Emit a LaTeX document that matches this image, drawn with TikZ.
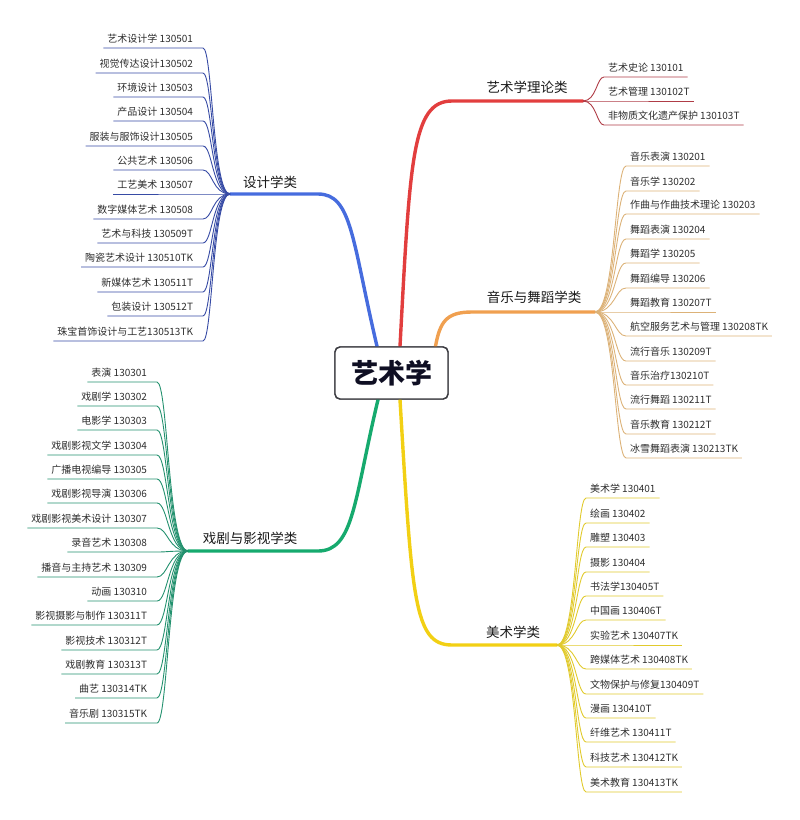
\documentclass[tikz,border=0pt]{standalone}
\usepackage{fontspec}
\setmainfont{Noto Sans CJK SC}
\usetikzlibrary{calc}
\definecolor{cred}{RGB}{226,62,62}
\definecolor{credc}{RGB}{175,60,70}
\definecolor{corange}{RGB}{240,160,80}
\definecolor{corangec}{RGB}{220,178,120}
\definecolor{cyellow}{RGB}{242,208,20}
\definecolor{cyellowc}{RGB}{225,202,45}
\definecolor{cgreen}{RGB}{22,170,110}
\definecolor{cgreenc}{RGB}{35,145,110}
\definecolor{cblue}{RGB}{70,108,222}
\definecolor{cbluec}{RGB}{55,75,165}
\definecolor{leaftext}{RGB}{45,45,45}
\definecolor{cattext}{RGB}{25,25,25}
\definecolor{boxdraw}{RGB}{60,60,66}
\definecolor{boxtext}{RGB}{15,15,35}
\begin{document}
\begin{tikzpicture}[x=1pt,y=-1pt,
  leaf/.style={inner xsep=4pt,inner ysep=4pt,text depth=2pt,text height=8pt,
    font=\fontsize{10}{12}\selectfont,text=leaftext,outer sep=0pt},
  cat/.style={font=\fontsize{13.5}{16}\selectfont,text=cattext,inner sep=0pt},
  mainline/.style={line width=3.4pt,line cap=round},
  childline/.style={line width=0.9pt},
  centerbox/.style={draw=boxdraw,line width=1.4pt,rounded corners=5pt,fill=white,
    minimum width=113pt,minimum height=52pt,inner sep=0pt,
    font=\fontsize{27}{30}\selectfont\bfseries,text=boxtext}]
\useasboundingbox (0,0) rectangle (800,820);

% center node (placed first for anchors, redrawn later on top)
\node[centerbox] (c) at (391.5,373) {艺术学};

% branch points
\coordinate (rb) at (583,101);
\coordinate (ob) at (595,312);
\coordinate (yb) at (557,645);
\coordinate (gb) at (188,551);
\coordinate (bb) at (230,194);

% main branches
\draw[mainline,cred] ([xshift=8.5pt]c.north) .. controls (410,160) and (412,101) .. (452,101) -- (rb);
\draw[mainline,corange] ([xshift=44pt]c.north) .. controls (440,322) and (446,312) .. (472,312) -- (ob);
\draw[mainline,cyellow] ([xshift=8.5pt]c.south) .. controls (412,600) and (414,645) .. (452,645) -- (yb);
\draw[mainline,cgreen] ([xshift=-13.5pt]c.south) .. controls (354,500) and (354,551) .. (318,551) -- (gb);
\draw[mainline,cblue] ([xshift=-14.5pt]c.north) .. controls (352,240) and (352,194) .. (318,194) -- (bb);

% category labels
\node[cat] (rl) at (527,87) {艺术学理论类};
\node[cat] (ol) at (534,297) {音乐与舞蹈学类};
\node[cat] (yl) at (513,632) {美术学类};
\node[cat] (gl) at (250,538) {戏剧与影视学类};
\node[cat] (bl) at (270,182) {设计学类};

% red leaves
\foreach [count=\i] \t/\y in {艺术史论 130101/77,艺术管理 130102T/101,非物质文化遗产保护 130103T/125}{
  \node[leaf,anchor=south west] (r\i) at (604,\y) {\t};
  \draw[childline,credc] (rb) .. controls (596.6,101) and (596.6,\y) .. (r\i.south west) -- (r\i.south east);
}

% orange leaves
\foreach [count=\i] \t/\y in {音乐表演 130201/166,音乐学 130202/191,作曲与作曲技术理论 130203/214,舞蹈表演 130204/239,舞蹈学 130205/263,舞蹈编导 130206/288,舞蹈教育 130207T/312,航空服务艺术与管理 130208TK/336,流行音乐 130209T/361,音乐治疗130210T/385,流行舞蹈 130211T/409,音乐教育 130212T/434,冰雪舞蹈表演 130213TK/458}{
  \node[leaf,anchor=south west] (o\i) at (626,\y) {\t};
  \draw[childline,corangec] (ob) .. controls (615,312) and (615,\y) .. (o\i.south west) -- (o\i.south east);
}

% yellow leaves
\foreach [count=\i] \t/\y in {美术学 130401/498,绘画 130402/523,雕塑 130403/547,摄影 130404/572,书法学130405T/596,中国画 130406T/620,实验艺术 130407TK/645,跨媒体艺术 130408TK/669,文物保护与修复130409T/694,漫画 130410T/718,纤维艺术 130411T/742,科技艺术 130412TK/767,美术教育 130413TK/792}{
  \node[leaf,anchor=south west] (y\i) at (586,\y) {\t};
  \draw[childline,cyellowc] (yb) .. controls (576,645) and (576,\y) .. (y\i.south west) -- (y\i.south east);
}

% green leaves
\foreach [count=\i] \t/\y in {表演 130301/382,戏剧学 130302/406,电影学 130303/430,戏剧影视文学 130304/455,广播电视编导 130305/479,戏剧影视导演 130306/503,戏剧影视美术设计 130307/528,录音艺术 130308/552,播音与主持艺术 130309/577,动画 130310/601,影视摄影与制作 130311T/625,影视技术 130312T/650,戏剧教育 130313T/674,曲艺 130314TK/698,音乐剧 130315TK/723}{
  \node[leaf,anchor=south east] (g\i) at (151,\y) {\t};
  \draw[childline,cgreenc] (gb) .. controls (168,551) and (168,\y) .. ([xshift=6pt]g\i.south east) -- (g\i.south west);
}

% blue leaves
\foreach [count=\i] \t/\y in {艺术设计学 130501/48,视觉传达设计130502/73,环境设计 130503/97,产品设计 130504/121,服装与服饰设计130505/146,公共艺术 130506/170,工艺美术 130507/194,数字媒体艺术 130508/219,艺术与科技 130509T/243,陶瓷艺术设计 130510TK/267,新媒体艺术 130511T/292,包装设计 130512T/316,珠宝首饰设计与工艺130513TK/341}{
  \node[leaf,anchor=south east] (b\i) at (197,\y) {\t};
  \draw[childline,cbluec] (bb) .. controls (212.5,194) and (212.5,\y) .. ([xshift=6pt]b\i.south east) -- (b\i.south west);
}

% center box on top
\node[centerbox] at (c) {艺术学};
\end{tikzpicture}
\end{document}
